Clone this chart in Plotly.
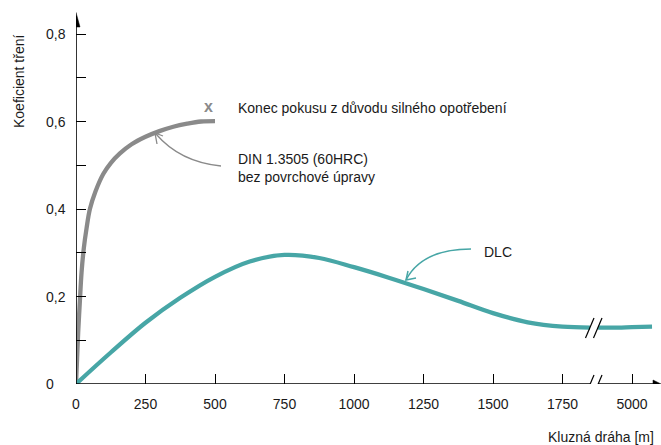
import plotly.graph_objects as go

# ---------------- data ----------------
steel_x = [0, 4, 8, 14, 20, 28, 38, 50, 70, 98, 125, 158, 200, 250, 300, 350, 400, 450, 500]
steel_y = [0, 0.06, 0.12, 0.19, 0.255, 0.31, 0.356, 0.40, 0.44, 0.48, 0.505, 0.527,
           0.548, 0.565, 0.578, 0.588, 0.595, 0.600, 0.601]

dlc_x = [0, 125, 250, 375, 500, 625, 750, 875, 1000, 1125, 1250, 1375, 1500,
         1625, 1750, 1849]
dlc_y = [0, 0.072, 0.140, 0.197, 0.245, 0.280, 0.295, 0.288, 0.267, 0.243, 0.217,
         0.190, 0.162, 0.141, 0.131, 0.129]

# after the axis break (axis position 2000 is labelled 5000 m)
dlc_tail_x = [1878, 1950, 2000, 2072]
dlc_tail_y = [0.129, 0.129, 0.130, 0.131]

x_tickvals = [0, 250, 500, 750, 1000, 1250, 1500, 1750, 2000]
x_ticktext = ["0", "250", "500", "750", "1000", "1250", "1500", "1750", "5000"]
y_tickvals = [0, 0.1, 0.2, 0.3, 0.4, 0.5, 0.6, 0.7, 0.8]
y_labelvals = [0, 0.2, 0.4, 0.6, 0.8]
y_labeltext = ["0", "0,2", "0,4", "0,6", "0,8"]

# ---------------- styles ----------------
TEAL = "#47a6a6"
GRAY = "#8a8a8a"
INK = "#1a1a1a"
FONT = "Liberation Sans, Arial, sans-serif"
FS = 14

W, H = 661, 445
ML, MR, MT, MB = 76, 0, 10, 61
PX_PER_X = 69.5 / 250.0
PX_PER_Y = 437.5
XMAX = (W - ML - MR) / PX_PER_X
YMAX = (H - MT - MB) / PX_PER_Y


def X(px):
    return (px - ML) / PX_PER_X


def Y(py):
    return (H - MB - py) / PX_PER_Y


fig = go.Figure()
fig.add_trace(go.Scatter(x=steel_x, y=steel_y, mode="lines",
                         line=dict(color=GRAY, width=4.3, shape="spline", smoothing=1.0),
                         hoverinfo="skip"))
fig.add_trace(go.Scatter(x=dlc_x, y=dlc_y, mode="lines",
                         line=dict(color=TEAL, width=4.3, shape="spline", smoothing=1.0),
                         hoverinfo="skip"))
fig.add_trace(go.Scatter(x=dlc_tail_x, y=dlc_tail_y, mode="lines",
                         line=dict(color=TEAL, width=4.3, shape="spline", smoothing=1.0),
                         hoverinfo="skip"))

shapes = []
# axes lines
shapes.append(dict(type="line", xref="x", yref="y", x0=0, y0=0, x1=0, y1=Y(27),
                   line=dict(color="black", width=1.6)))
shapes.append(dict(type="line", xref="x", yref="y", x0=0, y0=0, x1=X(590), y1=0,
                   line=dict(color="black", width=1.5)))
shapes.append(dict(type="line", xref="x", yref="y", x0=X(598), y0=0, x1=X(655), y1=0,
                   line=dict(color="black", width=1.5)))
# arrow heads of the axes
shapes.append(dict(type="path", xref="x", yref="y",
                   path=f"M {X(72)},{Y(27)} L {X(76)},{Y(12.5)} L {X(80)},{Y(27)} Z",
                   fillcolor="black", line=dict(color="black", width=0.5)))
shapes.append(dict(type="path", xref="x", yref="y",
                   path=f"M {X(653)},{Y(380)} L {X(661)},{Y(384)} L {X(653)},{Y(388)} Z",
                   fillcolor="black", line=dict(color="black", width=0.5)))
# break marks on axis and on curve
for dx in (0, 8):
    shapes.append(dict(type="line", xref="x", yref="y",
                       x0=X(585.5 + dx), y0=Y(395), x1=X(594 + dx), y1=Y(375),
                       line=dict(color="black", width=1.2)))
    shapes.append(dict(type="line", xref="x", yref="y",
                       x0=X(585.5 + dx), y0=Y(338), x1=X(594 + dx), y1=Y(318),
                       line=dict(color="black", width=1.2)))

# curved pointer for steel
shapes.append(dict(type="path", xref="x", yref="y",
                   path=f"M {X(221)},{Y(166)} Q {X(180)},{Y(162)} {X(156)},{Y(134)}",
                   line=dict(color=GRAY, width=1.3)))
shapes.append(dict(type="path", xref="x", yref="y",
                   path=f"M {X(157)},{Y(144)} L {X(155)},{Y(133)} L {X(163)},{Y(136)}",
                   line=dict(color=GRAY, width=1.3)))
# curved pointer for DLC
shapes.append(dict(type="path", xref="x", yref="y",
                   path=f"M {X(471)},{Y(249)} Q {X(422)},{Y(249)} {X(406)},{Y(280)}",
                   line=dict(color=TEAL, width=1.5)))
shapes.append(dict(type="path", xref="x", yref="y",
                   path=f"M {X(408)},{Y(271)} L {X(406)},{Y(280)} L {X(416)},{Y(278)}",
                   line=dict(color=TEAL, width=1.5)))

annotations = []
for v, t in zip(y_labelvals, y_labeltext):
    annotations.append(dict(x=(44 - ML) / (W - ML - MR), xref="paper", y=v, yref="y",
                            text=t, showarrow=False, xanchor="left", yanchor="middle",
                            font=dict(family=FONT, size=FS, color=INK)))
annotations.append(dict(x=(19 - ML) / (W - ML - MR), xref="paper",
                        y=(H - MB - 82) / (H - MT - MB), yref="paper",
                        text="Koeficient tření", textangle=-90, showarrow=False,
                        xanchor="center", yanchor="middle",
                        font=dict(family=FONT, size=FS, color=INK)))
annotations.append(dict(x=(656 - ML) / (W - ML - MR), xref="paper",
                        y=(H - MB - 437) / (H - MT - MB), yref="paper",
                        text="Kluzná dráha [m]", showarrow=False,
                        xanchor="right", yanchor="middle",
                        font=dict(family=FONT, size=FS, color=INK)))
annotations.append(dict(x=X(208), y=Y(106), xref="x", yref="y", text="<b>x</b>",
                        showarrow=False, xanchor="center", yanchor="middle",
                        font=dict(family=FONT, size=16, color=GRAY)))
annotations.append(dict(x=X(236), y=Y(108), xref="x", yref="y",
                        text="Konec pokusu z důvodu silného opotřebení",
                        showarrow=False, xanchor="left", yanchor="middle",
                        font=dict(family=FONT, size=FS, color=INK)))
annotations.append(dict(x=X(236), y=Y(168), xref="x", yref="y",
                        text="DIN 1.3505 (60HRC)<br>bez povrchové úpravy",
                        showarrow=False, xanchor="left", yanchor="middle", align="left",
                        font=dict(family=FONT, size=FS, color=INK)))
annotations.append(dict(x=X(482), y=Y(252), xref="x", yref="y", text="DLC",
                        showarrow=False, xanchor="left", yanchor="middle",
                        font=dict(family=FONT, size=FS, color=INK)))

fig.update_layout(
    width=W, height=H,
    margin=dict(l=ML, r=MR, t=MT, b=MB, pad=0),
    paper_bgcolor="white", plot_bgcolor="white",
    showlegend=False,
    font=dict(family=FONT, size=FS, color=INK),
    shapes=shapes, annotations=annotations,
    xaxis=dict(range=[0, XMAX], showgrid=False, zeroline=False, showline=False,
               tickvals=x_tickvals, ticktext=x_ticktext, ticks="inside", ticklen=10,
               tickcolor="black", tickwidth=1, fixedrange=True, ticklabelstandoff=10,
               tickfont=dict(family=FONT, size=FS, color=INK)),
    yaxis=dict(range=[0, YMAX], showgrid=False, zeroline=False, showline=False,
               tickvals=y_tickvals, ticks="inside", ticklen=10, tickcolor="black",
               tickwidth=1, showticklabels=False, fixedrange=True),
)

fig.write_html("out.html", config={"displayModeBar": False},
               post_script="document.body.style.margin='0';document.body.style.overflow='hidden';")
